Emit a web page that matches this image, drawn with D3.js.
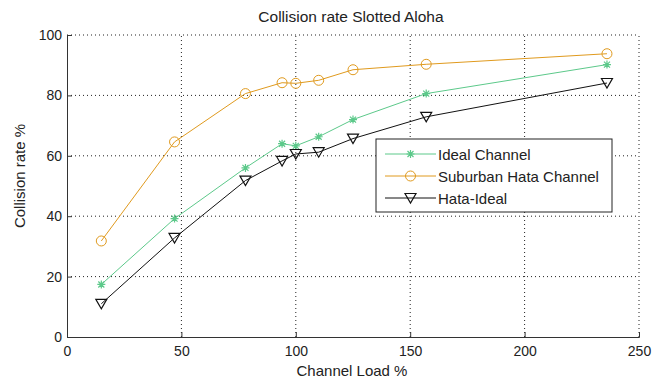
<!DOCTYPE html>
<head>
  <meta charset="utf-8">
  <script src="https://d3js.org/d3.v7.min.js"></script>
  <style>
    body { margin:0; background:#fff; }
    svg { display:block; }
    text { font-family: "Liberation Sans", Arial, sans-serif; fill:#222; }
  </style>
</head>
<body>
  <svg width="652" height="381"></svg>
  <script>
    var width = 652;
    var height = 381;
    var margin = {top: 35, right: 13, bottom: 44, left: 67};

    // channel load (x) and collision rate (y)
    var load = [15, 47, 78, 94, 100, 110, 125, 157, 236];
    var ideal = [17.4, 39.2, 56, 64, 63.3, 66.3, 72, 80.6, 90.2];
    var suburbanHata = [31.8, 64.6, 80.6, 84.2, 84, 85, 88.5, 90.3, 93.8];
    var hataIdeal = [11, 32.8, 51.8, 58.3, 60.6, 61.2, 65.7, 72.9, 84.1];

    var xTicks = [0, 50, 100, 150, 200, 250];
    var yTicks = [0, 20, 40, 60, 80, 100];

    var series = [
      {name: 'Ideal Channel', values: ideal, color: '#5cc98a', marker: 'star'},
      {name: 'Suburban Hata Channel', values: suburbanHata, color: '#e09a1e', marker: 'circle'},
      {name: 'Hata-Ideal', values: hataIdeal, color: '#111', marker: 'tri'}
    ];

    var svg = d3.select('svg');

    var xScale = d3.scaleLinear()
      .domain([0, 250])
      .range([margin.left, width - margin.right]);
    var yScale = d3.scaleLinear()
      .domain([0, 100])
      .range([height - margin.bottom, margin.top]);

    // dotted grid
    svg.append('g')
      .selectAll('line')
      .data(xTicks.slice(1))
      .enter().append('line')
      .attr('x1', d => xScale(d)).attr('x2', d => xScale(d))
      .attr('y1', yScale(0)).attr('y2', yScale(100))
      .attr('stroke', '#222').attr('stroke-width', 1)
      .attr('stroke-dasharray', '1,3');
    svg.append('g')
      .selectAll('line')
      .data(yTicks.slice(1))
      .enter().append('line')
      .attr('y1', d => yScale(d)).attr('y2', d => yScale(d))
      .attr('x1', xScale(0)).attr('x2', xScale(250))
      .attr('stroke', '#222').attr('stroke-width', 1)
      .attr('stroke-dasharray', '1,3');

    // axes, ticks pointing inward
    var xAxis = d3.axisBottom(xScale).tickValues(xTicks).tickSize(-5).tickPadding(9);
    var yAxis = d3.axisLeft(yScale).tickValues(yTicks).tickSize(-5).tickPadding(5);

    var gx = svg.append('g')
      .attr('transform', 'translate(0,' + yScale(0) + ')')
      .call(xAxis);
    var gy = svg.append('g')
      .attr('transform', 'translate(' + xScale(0) + ',0)')
      .call(yAxis);
    [gx, gy].forEach(g => {
      g.select('.domain').attr('stroke', '#333');
      g.selectAll('.tick line').attr('stroke', '#333');
      g.selectAll('.tick text').attr('font-size', 14).attr('fill', '#222')
        .style('font-family', '"Liberation Sans Narrow", "Liberation Sans", Arial, sans-serif');
    });

    // lines
    var line = d3.line()
      .x((d, i) => xScale(load[i]))
      .y(d => yScale(d));

    function drawMarker(g, type, color) {
      if (type === 'circle') {
        g.append('circle').attr('r', 5).attr('fill', 'none')
          .attr('stroke', color).attr('stroke-width', 1);
      } else if (type === 'tri') {
        g.append('path').attr('d', 'M-5.5,-4.5L5.5,-4.5L0,5Z').attr('fill', 'none')
          .attr('stroke', color).attr('stroke-width', 1.2);
      } else {
        g.append('path').attr('d', 'M-4,0H4M0,-4V4M-3,-3L3,3M-3,3L3,-3')
          .attr('stroke', color).attr('stroke-width', 1.2);
      }
    }

    series.forEach(s => {
      svg.append('path')
        .datum(s.values)
        .attr('d', line)
        .attr('fill', 'none')
        .attr('stroke', s.color)
        .attr('stroke-width', 1);
      s.values.forEach((v, i) => {
        var g = svg.append('g')
          .attr('transform', 'translate(' + xScale(load[i]) + ',' + yScale(v) + ')');
        drawMarker(g, s.marker, s.color);
      });
    });

    // legend
    var legend = svg.append('g').attr('transform', 'translate(376,139)');
    legend.append('rect')
      .attr('width', 236).attr('height', 73)
      .attr('fill', '#fff').attr('stroke', '#222').attr('stroke-width', 1);
    series.forEach((s, i) => {
      var row = legend.append('g').attr('transform', 'translate(0,' + (15 + i * 22) + ')');
      row.append('line').attr('x1', 9).attr('x2', 60)
        .attr('stroke', s.color).attr('stroke-width', 1);
      var m = row.append('g').attr('transform', 'translate(34.5,0)');
      drawMarker(m, s.marker, s.color);
      row.append('text').attr('x', 62).attr('y', 5.5)
        .attr('font-size', 15).text(s.name);
    });

    // title and labels
    svg.append('text')
      .attr('x', 351).attr('y', 22)
      .attr('text-anchor', 'middle').attr('font-size', 15.5)
      .text('Collision rate Slotted Aloha');
    svg.append('text')
      .attr('x', 352).attr('y', 376)
      .attr('text-anchor', 'middle').attr('font-size', 15)
      .text('Channel Load %');
    svg.append('text')
      .attr('transform', 'translate(25,176) rotate(-90)')
      .attr('text-anchor', 'middle').attr('font-size', 15)
      .text('Collision rate %');
  </script>
</body>
